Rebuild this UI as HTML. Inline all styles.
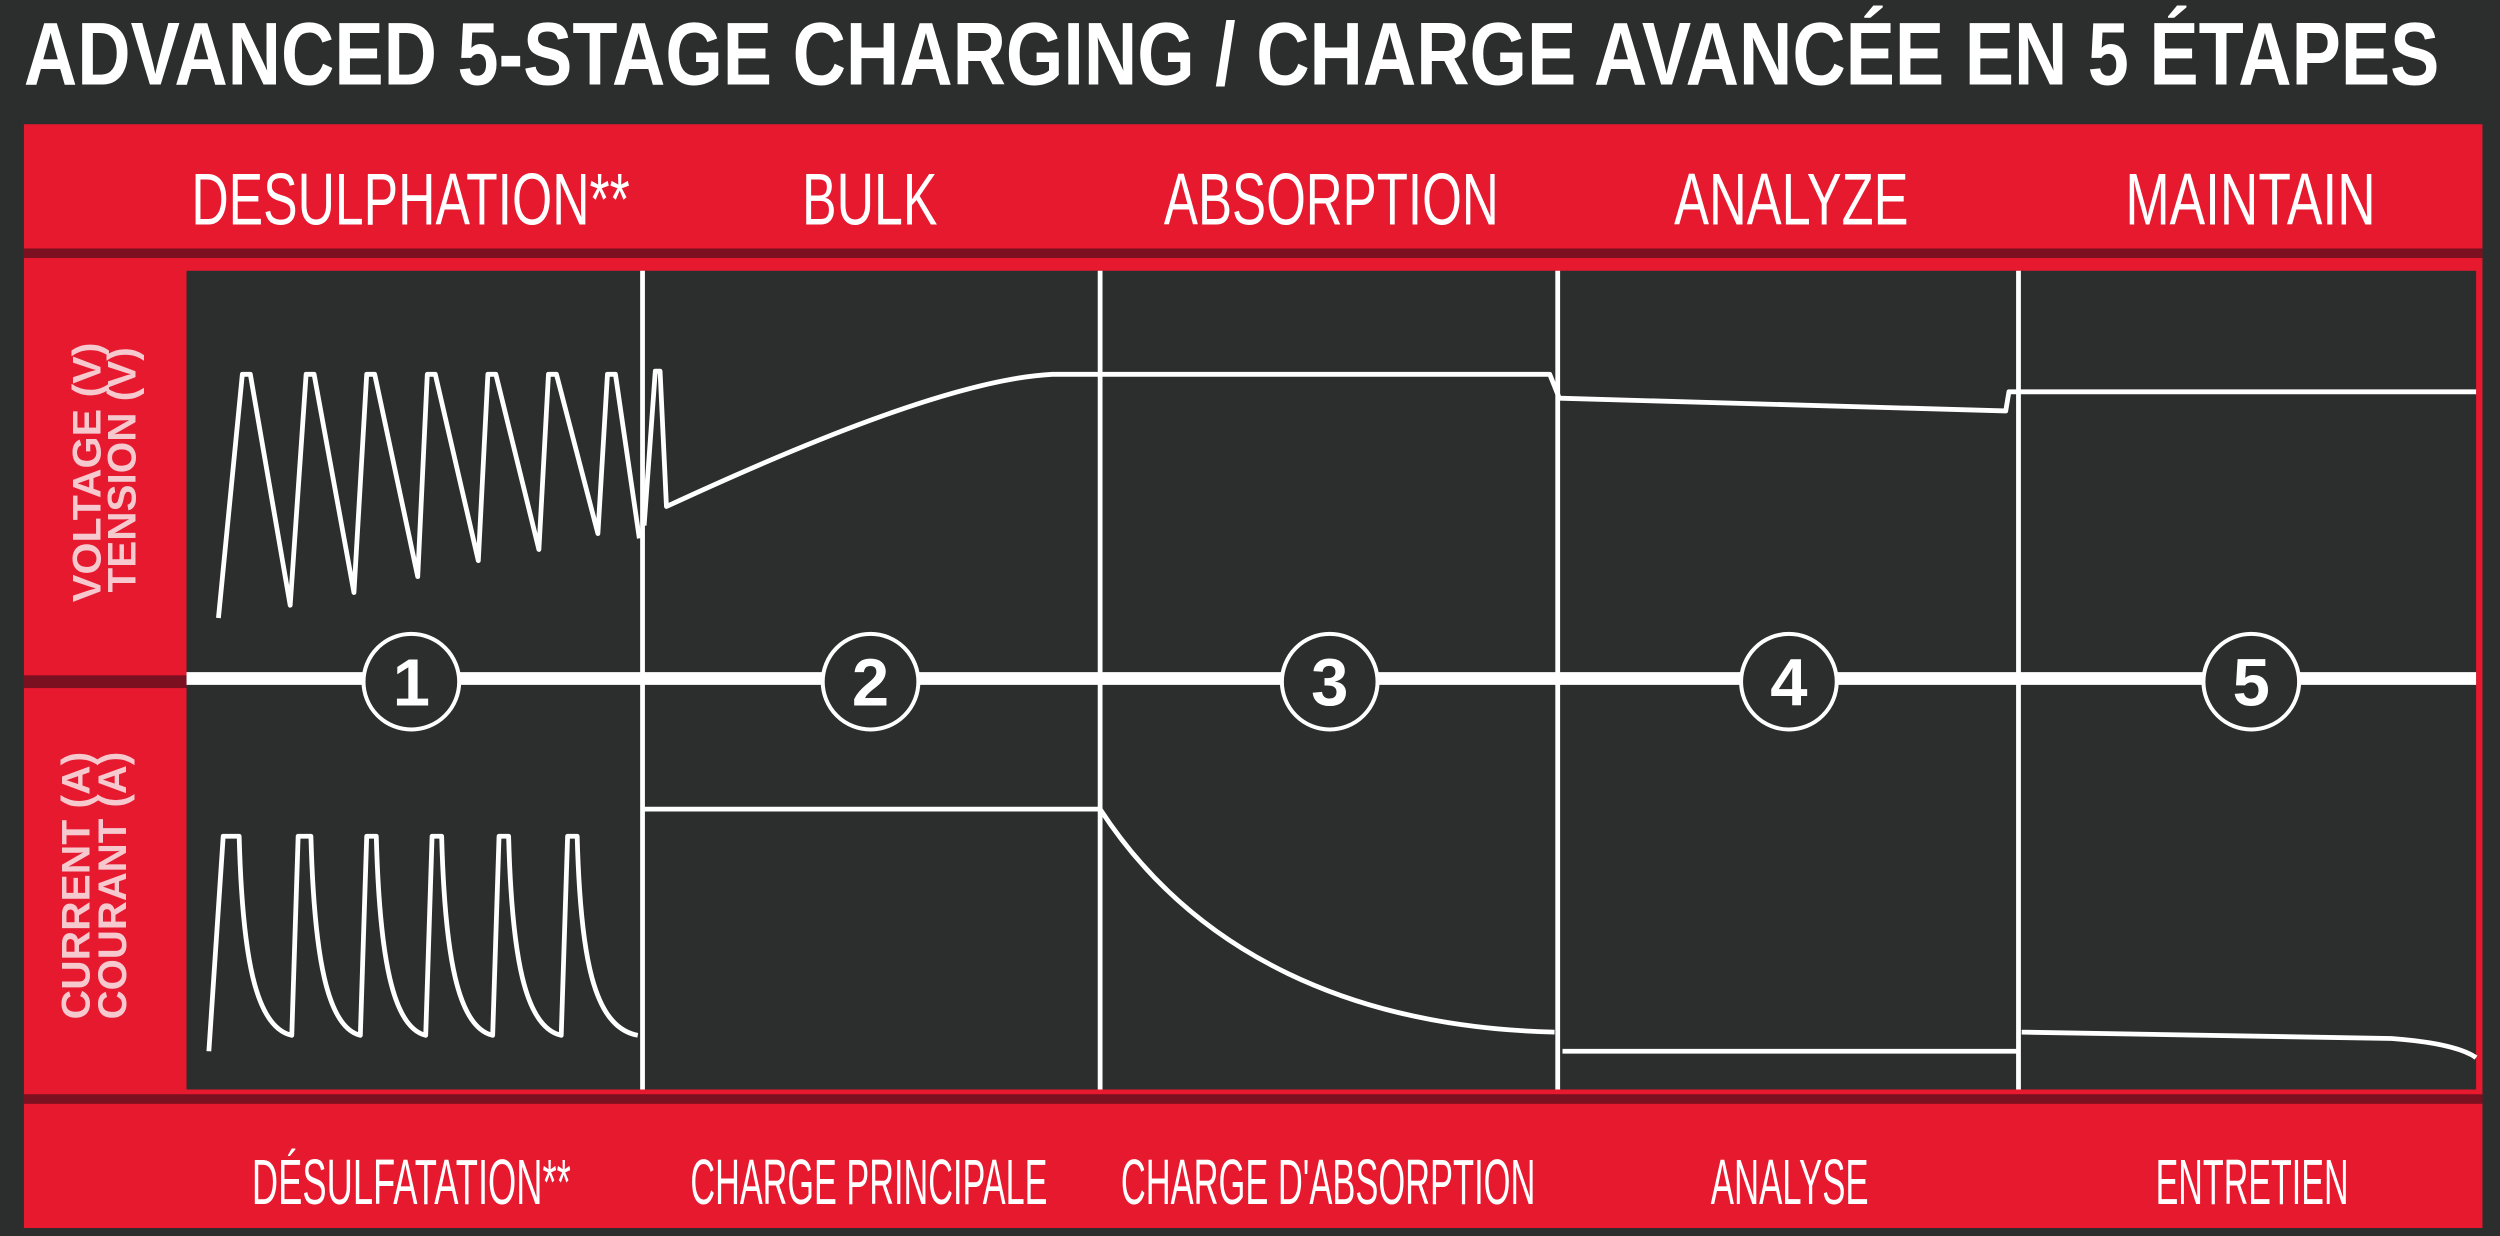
<!DOCTYPE html>
<html><head><meta charset="utf-8"><style>
html,body{margin:0;padding:0;background:#2b2e2d;width:2500px;height:1236px;overflow:hidden}
svg{display:block}
text{font-family:"Liberation Sans",sans-serif;fill:#fff}
</style></head><body>
<svg width="2500" height="1236" viewBox="0 0 1568 776" preserveAspectRatio="none" xmlns="http://www.w3.org/2000/svg">
<rect x="0" y="0" width="1568" height="776" fill="#2b2e2d"/>
<text x="15" y="53" font-size="56" font-weight="bold" textLength="1515" lengthAdjust="spacingAndGlyphs">ADVANCED 5-STAGE CHARGING / CHARGE AVANCÉE EN 5 ÉTAPES</text>
<rect x="15" y="78" width="1542" height="693" fill="#e6192f"/>
<rect x="15" y="156" width="1542" height="6" fill="#7a1020"/>
<rect x="15" y="687" width="1542" height="6" fill="#7a1020"/>
<rect x="15" y="424" width="102" height="8" fill="#7a1020"/>
<rect x="117" y="170" width="1436" height="514" fill="#2b2e2d"/>
<g font-size="46">
<text x="120" y="141" textLength="275" lengthAdjust="spacingAndGlyphs">DESULPHATION**</text>
<text x="503" y="141" textLength="85" lengthAdjust="spacingAndGlyphs">BULK</text>
<text x="730" y="141" textLength="210" lengthAdjust="spacingAndGlyphs">ABSORPTION</text>
<text x="1050" y="141" textLength="147" lengthAdjust="spacingAndGlyphs">ANALYZE</text>
<text x="1333" y="141" textLength="157" lengthAdjust="spacingAndGlyphs">MAINTAIN</text>
</g>
<g font-size="40">
<text x="158" y="756" textLength="200" lengthAdjust="spacingAndGlyphs">DÉSULFATATION**</text>
<text x="433" y="756" textLength="224" lengthAdjust="spacingAndGlyphs">CHARGE PRINCIPALE</text>
<text x="703" y="756" textLength="260" lengthAdjust="spacingAndGlyphs">CHARGE D'ABSORPTION</text>
<text x="1073" y="756" textLength="99" lengthAdjust="spacingAndGlyphs">ANALYSE</text>
<text x="1352" y="756" textLength="121" lengthAdjust="spacingAndGlyphs">ENTRETIEN</text>
</g>
<g font-size="25" font-weight="bold" style="fill:#f6c9cf">
<text transform="translate(63,378) rotate(-90)" textLength="163" lengthAdjust="spacingAndGlyphs" style="fill:#f6c9cf">VOLTAGE (V)</text>
<text transform="translate(85,372) rotate(-90)" textLength="154" lengthAdjust="spacingAndGlyphs" style="fill:#f6c9cf">TENSION (V)</text>
<text transform="translate(56,640) rotate(-90)" textLength="168" lengthAdjust="spacingAndGlyphs" style="fill:#f6c9cf">CURRENT (A)</text>
<text transform="translate(79,640) rotate(-90)" textLength="168" lengthAdjust="spacingAndGlyphs" style="fill:#f6c9cf">COURANT (A)</text>
</g>
<g stroke="#fff" fill="none">
<line x1="403" y1="170" x2="403" y2="684" stroke-width="3"/>
<line x1="690" y1="170" x2="690" y2="684" stroke-width="3"/>
<line x1="977" y1="170" x2="977" y2="684" stroke-width="3"/>
<line x1="1266" y1="170" x2="1266" y2="684" stroke-width="3"/>
<line x1="117" y1="426" x2="1553" y2="426" stroke-width="8"/>
<path stroke-width="3" stroke-linejoin="round" d="M137,388 L152,235 L157,235 L182,380 L192,235 L197,235 L222,372 L230,235 L235,235 L262,362 L268,235 L273,235 L300,352 L306,235 L311,235 L338,345 L344,235 L349,235 L375,335 L381,235 L386,235 L401,338 M404,330 L411,233 L414,233 L418,318 C500,280 600,238 660,235 L972,235 L978,250 L1258,258 L1260,246 L1553,246"/>
<path stroke-width="3" stroke-linejoin="round" d="M131,660 L140,525 L150,525 C152,600 160,645 183,650 L187,525 L195,525 C197,600 205,645 226,650 L230,525 L236,525 C238,600 246,645 267,650 L271,525 L277,525 C279,600 287,645 309,650 L313,525 L319,525 C321,600 329,645 352,650 L356,525 L362,525 C364,600 372,645 400,650 M404,508 L690,508 C750,600 850,645 975,648 M980,660 L1265,660 M1268,648 L1500,652 Q1540,655 1553,664"/>
</g>
<g stroke="#fff" stroke-width="2.5" fill="#2b2e2d">
<circle cx="258" cy="428" r="30"/><circle cx="546" cy="428" r="30"/><circle cx="834" cy="428" r="30"/><circle cx="1122" cy="428" r="30"/><circle cx="1412" cy="428" r="30"/>
</g>
<g font-size="42" text-anchor="middle" font-weight="bold">
<text x="258" y="443">1</text><text x="546" y="443">2</text><text x="834" y="443">3</text><text x="1122" y="443">4</text><text x="1412" y="443">5</text>
</g>
</svg>
</body></html>
